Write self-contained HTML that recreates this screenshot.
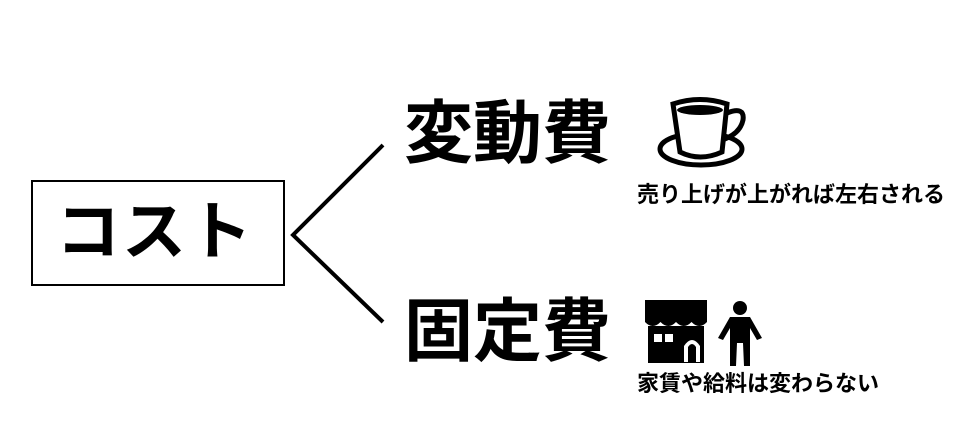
<!DOCTYPE html>
<html><head><meta charset="utf-8"><style>
body{margin:0;width:966px;height:440px;background:#fff;position:relative;overflow:hidden;font-family:"Liberation Sans","Noto Sans CJK JP",sans-serif;font-weight:bold;color:#000}
.t{position:absolute;white-space:nowrap;line-height:1}
</style></head><body>
<div style="position:absolute;left:31px;top:180px;width:250px;height:102px;border:2px solid #000"></div>
<div class="t" style="left:56px;top:200px;font-size:64px;letter-spacing:2px">コスト</div>
<svg width="966" height="440" style="position:absolute;left:0;top:0">
<polyline points="383,145 293,235 383,322" fill="none" stroke="#000" stroke-width="4"/>
<ellipse cx="701" cy="149" rx="41" ry="16" fill="none" stroke="#000" stroke-width="5"/>
<path d="M673,104 Q700,95 727,104 L722,152 Q700,162 680,152 Z" fill="#fff" stroke="#000" stroke-width="5"/>
<ellipse cx="700" cy="110" rx="23" ry="5" fill="#000"/>
<path d="M727,113 Q745,106 743,120 Q740,134 722,140" fill="none" stroke="#000" stroke-width="5"/>
<rect x="645" y="300" width="62" height="22" fill="#000"/>
<path d="M645,322 q7.75,8 15.5,0 q7.75,8 15.5,0 q7.75,8 15.5,0 q7.75,8 15.5,0 z" fill="#000"/>
<rect x="648" y="326" width="56" height="37" fill="#000"/>
<rect x="654" y="334" width="8" height="8" fill="#fff"/><rect x="665" y="334" width="8" height="8" fill="#fff"/>
<path d="M684,362 L684,346 Q692,334 700,346 L700,362 Z" fill="#fff"/>
<path d="M688,362 L688,347 Q692,341 696,347 L696,362 Z" fill="#000"/>
<circle cx="740" cy="308" r="7" fill="#000"/>
<path d="M730,317 L750,317 L762,338 L757,340 L750,328 L750,366 L744,366 L743,343 L737,343 L736,366 L730,366 L730,328 L723,340 L718,338 Z" fill="#000"/>
</svg>
<div class="t" style="left:404px;top:99px;font-size:69px">変動費</div>
<div class="t" style="left:404px;top:297px;font-size:69px">固定費</div>
<div class="t" style="left:637px;top:184px;font-size:22px">売り上げが上がれば左右される</div>
<div class="t" style="left:637px;top:373px;font-size:22px">家賃や給料は変わらない</div>
</body></html>
